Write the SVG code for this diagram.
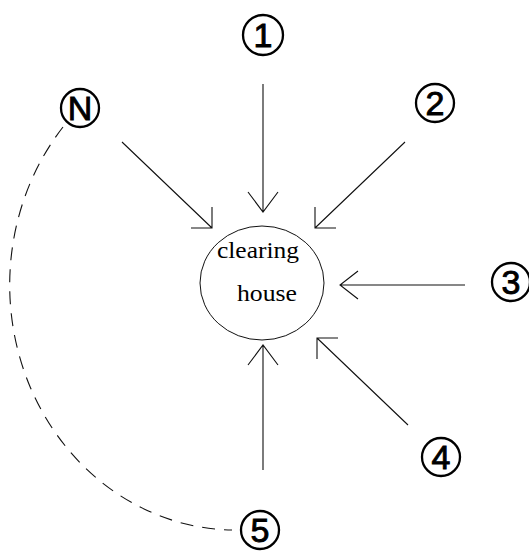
<svg xmlns="http://www.w3.org/2000/svg" width="529" height="553" viewBox="0 0 529 553">
  <style>
    .badge circle { fill: none; stroke: #000; stroke-width: 2.3; }
    .badge text { font-family: "Liberation Sans", Arial, sans-serif; font-size: 34px; text-anchor: middle; fill: #000; stroke: #000; stroke-width: 0.9; }
    .edge { fill: none; stroke: #111; stroke-width: 1.1; }
    .dash { fill: none; stroke: #111; stroke-width: 1.1; stroke-dasharray: 13 9; }
    .hub { fill: #fff; stroke: #111; stroke-width: 1; }
    .hubtxt { font-family: "Liberation Serif", "Times New Roman", serif; font-size: 23px; fill: #000; }
  </style>

  <!-- connectors -->
  <g id="connectors">
    <!-- 1 -> hub -->
    <path class="edge" d="M263 84 V212 M248 192 L263 212 L278 192"/>
    <!-- N -> hub -->
    <path class="edge" d="M122 142 L212 228 M212 207 V228 H191"/>
    <!-- 2 -> hub -->
    <path class="edge" d="M405 142 L315 228 M315 207 V228 H336"/>
    <!-- 3 -> hub -->
    <path class="edge" d="M465 285 H340 M358 271 L340 285 L358 299"/>
    <!-- 4 -> hub -->
    <path class="edge" d="M408 425 L317 338 M317 359 V338 H338"/>
    <!-- 5 -> hub -->
    <path class="edge" d="M263 470 V345 M248 365 L263 345 L278 365"/>
    <!-- 5 back to N -->
    <path class="dash" d="M63 127 A226 245 0 0 0 232 530"/>
  </g>

  <!-- central node -->
  <g id="hub">
    <ellipse class="hub" cx="262" cy="283" rx="62" ry="57"/>
    <text class="hubtxt" x="217" y="258" textLength="82" lengthAdjust="spacingAndGlyphs">clearing</text>
    <text class="hubtxt" x="237" y="301" textLength="60" lengthAdjust="spacingAndGlyphs">house</text>
  </g>

  <g id="node-1" class="badge">
    <circle cx="263" cy="35" r="20"/>
    <text x="263" y="47">1</text>
  </g>
  <g id="node-N" class="badge">
    <circle cx="80" cy="108" r="19"/>
    <text x="80" y="120">N</text>
  </g>
  <g id="node-2" class="badge">
    <circle cx="435" cy="103" r="19"/>
    <text x="435" y="115">2</text>
  </g>
  <g id="node-3" class="badge">
    <circle cx="511" cy="282" r="19"/>
    <text x="511" y="294">3</text>
  </g>
  <g id="node-4" class="badge">
    <circle cx="441" cy="457" r="19"/>
    <text x="441" y="469">4</text>
  </g>
  <g id="node-5" class="badge">
    <circle cx="260" cy="530" r="19"/>
    <text x="260" y="542">5</text>
  </g>
</svg>
